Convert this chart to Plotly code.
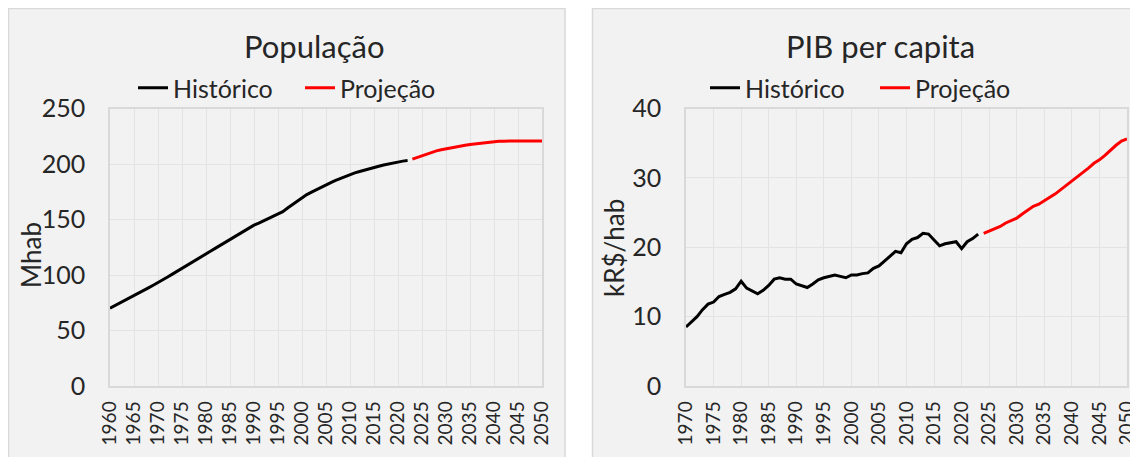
import plotly.graph_objects as go

# The page body adds an 8px margin, so the figure is sized to the rest of the window
OFF = 8
W, H = 1138 - OFF, 457 - OFF

# ---------------- Data ----------------
pop_hist_years = list(range(1960, 2023))
pop_hist = [70.1, 72.3, 74.5, 76.7, 78.9, 81.2, 83.6, 86.0, 88.4, 90.8,
            93.1, 95.6, 98.2, 100.8, 103.5, 106.2, 108.8, 111.4, 114.0, 116.5,
            119.0, 121.6, 124.2, 126.8, 129.4, 132.0, 134.6, 137.2, 139.8, 142.4,
            144.9, 146.8, 148.9, 151.0, 153.0, 155.0, 157.1, 160.3, 163.5, 166.7,
            169.8, 172.4, 174.6, 176.9, 179.1, 181.4, 183.3, 185.2, 187.0, 188.9,
            190.7, 192.0, 193.3, 194.6, 195.8, 196.9, 198.0, 199.1, 200.1, 201.0,
            201.9, 202.6, 203.1]
pop_proj_years = list(range(2023, 2051))
pop_proj = [204.4, 205.9, 207.4, 209.1, 210.6, 211.8, 212.8, 213.7, 214.6, 215.4,
            216.2, 216.9, 217.5, 218.1, 218.6, 219.1, 219.6, 220.0, 220.4, 220.6,
            220.7, 220.7, 220.7, 220.7, 220.7, 220.7, 220.7, 220.7]

pib_hist_years = list(range(1970, 2024))
pib_hist = [8.5, 9.2, 10.0, 11.0, 11.8, 12.1, 12.9, 13.2, 13.5, 14.0,
            15.1, 14.1, 13.7, 13.3, 13.8, 14.5, 15.4, 15.6, 15.4, 15.4,
            14.7, 14.5, 14.2, 14.7, 15.3, 15.6, 15.8, 16.0, 15.8, 15.6,
            16.0, 16.0, 16.2, 16.3, 16.95, 17.3, 18.0, 18.7, 19.4, 19.2,
            20.5, 21.15, 21.4, 22.0, 21.9, 21.05, 20.2, 20.5, 20.7, 20.8,
            19.8, 20.8, 21.25, 21.9]
pib_proj_years = list(range(2024, 2051))
pib_proj = [22.0, 22.3, 22.65, 23.0, 23.5, 23.9, 24.2, 24.8, 25.4, 25.9,
            26.2, 26.65, 27.2, 27.7, 28.3, 28.9, 29.5, 30.1, 30.7, 31.4,
            32.1, 32.6, 33.25, 34.0, 34.7, 35.3, 35.6]

pop_ticks = list(range(1960, 2051, 5))
pib_ticks = list(range(1970, 2051, 5))
pop_yticks = [0, 50, 100, 150, 200, 250]
pib_yticks = [0, 10, 20, 30, 40]

# ---------------- Style ----------------
FONT = "Lato"
TXT = "#262626"
GRID = "#e3e3e3"
BORDER = "#d9d9d9"
PANEL = "#f2f2f2"


def px(x):
    return (x - OFF) / W


def py(y):
    return 1 - (y - OFF) / H


fig = go.Figure()

fig.add_trace(go.Scatter(x=pop_hist_years, y=pop_hist, mode="lines", name="Histórico",
                         line=dict(color="#000000", width=3), xaxis="x", yaxis="y",
                         legend="legend"))
fig.add_trace(go.Scatter(x=pop_proj_years, y=pop_proj, mode="lines", name="Projeção",
                         line=dict(color="#ff0000", width=3), xaxis="x", yaxis="y",
                         legend="legend"))
fig.add_trace(go.Scatter(x=pib_hist_years, y=pib_hist, mode="lines", name="Histórico",
                         line=dict(color="#000000", width=3), xaxis="x2", yaxis="y2",
                         legend="legend2"))
fig.add_trace(go.Scatter(x=pib_proj_years, y=pib_proj, mode="lines", name="Projeção",
                         line=dict(color="#ff0000", width=3), xaxis="x2", yaxis="y2",
                         legend="legend2"))

xcommon = dict(tickangle=-90, showgrid=True, gridcolor=GRID, gridwidth=1,
               showline=True, linecolor=BORDER, linewidth=1.5, mirror=True,
               ticks="", tickfont=dict(family=FONT, size=19, color=TXT),
               ticklabelstandoff=6, zeroline=False, fixedrange=True, automargin=False)
ycommon = dict(showgrid=True, gridcolor=GRID, gridwidth=1,
               showline=True, linecolor=BORDER, linewidth=1.5, mirror=True,
               ticks="", tickfont=dict(family=FONT, size=25, color=TXT),
               ticklabelstandoff=18, zeroline=False, fixedrange=True, automargin=False)

legcommon = dict(orientation="h", xanchor="center", yanchor="middle",
                 font=dict(family=FONT, size=25, color=TXT),
                 bgcolor="rgba(0,0,0,0)", itemwidth=30, tracegroupgap=0,
                 entrywidthmode="pixels")

fig.update_layout(
    template="none",
    width=W, height=H,
    margin=dict(l=0, r=0, t=0, b=0, pad=0, autoexpand=False),
    paper_bgcolor="#ffffff", plot_bgcolor="#ffffff",
    font=dict(family=FONT, color=TXT),
    xaxis=dict(domain=[px(110), px(542)], range=[1960, 2050],
               tickvals=pop_ticks, ticktext=[str(t) for t in pop_ticks], anchor="y", **xcommon),
    yaxis=dict(domain=[py(386), py(108.5)], range=[0, 250], tickvals=pop_yticks,
               anchor="x", **ycommon),
    xaxis2=dict(domain=[px(686), px(1127)], range=[1970, 2050],
                tickvals=pib_ticks, ticktext=[str(t) for t in pib_ticks], anchor="y2", **xcommon),
    yaxis2=dict(domain=[py(386), py(108.5)], range=[0, 40], tickvals=pib_yticks,
                anchor="x2", **ycommon),
    legend=dict(x=px(300), y=py(88), entrywidth=122, **legcommon),
    legend2=dict(x=px(875), y=py(88), entrywidth=125, **legcommon),
    shapes=[
        dict(type="rect", xref="paper", yref="paper", x0=px(8.5), x1=px(565), y0=py(470), y1=py(8.5),
             fillcolor=PANEL, line=dict(color=BORDER, width=1.5), layer="below"),
        dict(type="rect", xref="paper", yref="paper", x0=px(592.5), x1=px(1160), y0=py(470), y1=py(8.5),
             fillcolor=PANEL, line=dict(color=BORDER, width=1.5), layer="below"),
    ],
    annotations=[
        dict(text="População", x=px(314), y=py(46), xref="paper", yref="paper",
             xanchor="center", yanchor="middle", showarrow=False,
             font=dict(family=FONT, size=31, color=TXT)),
        dict(text="PIB per capita", x=px(880), y=py(46), xref="paper", yref="paper",
             xanchor="center", yanchor="middle", showarrow=False,
             font=dict(family=FONT, size=31, color=TXT)),
        dict(text="Mhab", x=px(31), y=py(255), xref="paper", yref="paper",
             xanchor="center", yanchor="middle", showarrow=False, textangle=-90,
             font=dict(family=FONT, size=26, color=TXT)),
        dict(text="kR$/hab", x=px(614), y=py(248), xref="paper", yref="paper",
             xanchor="center", yanchor="middle", showarrow=False, textangle=-90,
             font=dict(family=FONT, size=26, color=TXT)),
    ],
)

fig.write_html("out.html")
